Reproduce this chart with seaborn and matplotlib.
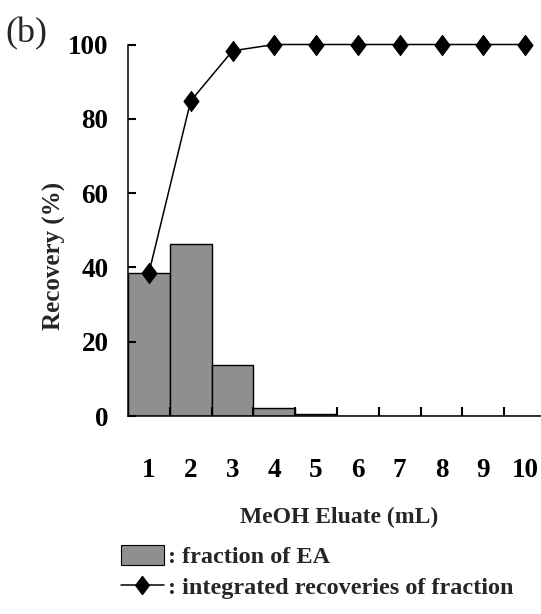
import numpy as np
import pandas as pd
import matplotlib
matplotlib.use("Agg")
import matplotlib.pyplot as plt
from matplotlib.patches import Patch
from matplotlib.lines import Line2D
import seaborn as sns

# ---- data ----
eluate_ml = [1, 2, 3, 4, 5, 6, 7, 8, 9, 10]
fraction_ea = [38.5, 46.3, 13.8, 2.1, 0.5, 0, 0, 0, 0, 0]
integrated_recovery = [38.5, 84.8, 98.3, 100, 100, 100, 100, 100, 100, 100]
y_ticks = [0, 20, 40, 60, 80, 100]
x_label = "MeOH Eluate (mL)"
y_label = "Recovery (%)"
legend_labels = [": fraction of EA", ": integrated recoveries of fraction"]
panel_label = "(b)"

df = pd.DataFrame({"eluate": eluate_ml, "fraction": fraction_ea,
                   "integrated": integrated_recovery})

sns.set_style("ticks")
plt.rcParams["font.family"] = ["Liberation Serif", "DejaVu Serif"]
plt.rcParams["font.weight"] = "bold"

W, H = 541, 614
fig = plt.figure(figsize=(W / 100, H / 100), dpi=100)
left, right, top, bottom = 128, 546, 44.5, 416
ax = fig.add_axes([left / W, 1 - bottom / H, (right - left) / W, (bottom - top) / H])

bar_color = "#8f8f8f"
sns.barplot(data=df, x="eluate", y="fraction", native_scale=True, width=1.0,
            color=bar_color, edgecolor="black", linewidth=1.0, saturation=1,
            ax=ax, zorder=2)

diamond = [(0, 1), (0.75, 0), (0, -1), (-0.75, 0), (0, 1)]
sns.lineplot(data=df, x="eluate", y="integrated", color="black", linewidth=1.1,
             marker=diamond, markersize=14.5, markerfacecolor="black",
             markeredgecolor="black", ax=ax, zorder=3, clip_on=False)

ax.set_xlim(0.5, 10.5)
ax.set_ylim(0, 100)
ax.set_axisbelow(False)
for s in ["top", "right"]:
    ax.spines[s].set_visible(False)
for s in ["left", "bottom"]:
    ax.spines[s].set_linewidth(1.1)
    ax.spines[s].set_color("black")

ax.set_yticks(y_ticks)
ax.set_yticklabels([str(v) for v in y_ticks])
ax.tick_params(axis="y", direction="in", length=6, width=1.5, pad=14,
               labelsize=19.5, colors="black", left=True)

# major ticks at category boundaries (no labels), minor at centres (labels only)
ax.set_xticks([v + 0.5 for v in eluate_ml])
ax.set_xticklabels([])
ax.set_xticks(eluate_ml, minor=True)
ax.set_xticklabels([str(v) for v in eluate_ml], minor=True)
ax.tick_params(axis="x", which="major", direction="in", length=6.5, width=1.5,
               colors="black", bottom=True)
ax.tick_params(axis="x", which="minor", length=0, pad=30, labelsize=19.5,
               colors="black", bottom=True, labelbottom=True)

ax.set_xlabel(x_label, fontsize=17, fontweight="bold")
ax.xaxis.set_label_coords(0.505, -0.245)
ax.set_ylabel(y_label, fontsize=18, fontweight="bold")
ax.yaxis.set_label_coords(-0.175, 0.43)
ax.yaxis.label.set_va("center")

fig.text(5 / W, 1 - 34 / H, panel_label, fontsize=26, fontweight="normal",
         ha="left", va="center")

handles = [Patch(facecolor=bar_color, edgecolor="black", linewidth=0.8),
           Line2D([0], [0], color="black", linewidth=1.1, marker=diamond,
                  markersize=13, markerfacecolor="black")]
fig.legend(handles, legend_labels, loc="upper left",
           bbox_to_anchor=(121 / W, 1 - 545 / H), frameon=False,
           prop={"size": 17.5, "weight": "bold"}, handlelength=1.75,
           handleheight=0.9, handletextpad=0.2, labelspacing=0.3,
           borderpad=0, borderaxespad=0)

fig.savefig("out.png", dpi=100)
